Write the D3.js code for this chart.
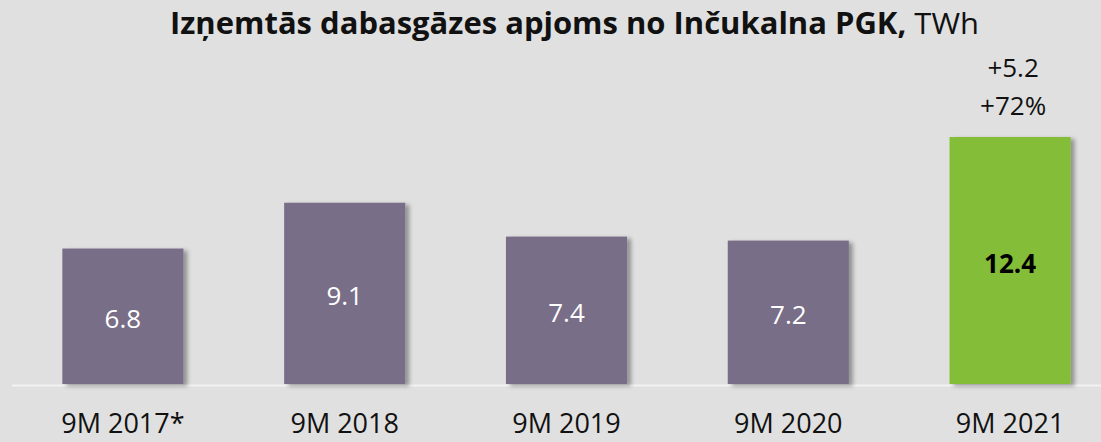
<!DOCTYPE html>
<html>
<head>
<meta charset="utf-8">
<script src="https://cdn.jsdelivr.net/npm/d3@7"></script>
<style>
  html, body { margin: 0; padding: 0; background: #e0e0e0; }
  svg { display: block; }
</style>
</head>
<body>
<svg id="chart"></svg>
<script>
// Data
const categories = ['9M 2017*', '9M 2018', '9M 2019', '9M 2020', '9M 2021'];
const values = [6.8, 9.1, 7.4, 7.2, 12.4];
const highlightIndex = 4;
const changeLabels = ['+5.2', '+72%'];

const width = 1101, height = 442;
const svg = d3.select('#chart').attr('width', width).attr('height', height);
const font = '"Open Sans", sans-serif';

// shadow filter for bars
const defs = svg.append('defs');
const f = defs.append('filter').attr('id', 'shadow')
  .attr('x', '-10%').attr('y', '-10%').attr('width', '130%').attr('height', '130%');
f.append('feDropShadow').attr('dx', 4).attr('dy', 2).attr('stdDeviation', 2)
  .attr('flood-color', '#000').attr('flood-opacity', 0.35);

svg.append('rect').attr('width', width).attr('height', height).attr('fill', '#e0e0e0');

const x = d3.scaleBand().domain(categories).range([12, 1121]).paddingInner(0.454).paddingOuter(0.227);
const baseY = 384;
const y = d3.scaleLinear().domain([0, 12.4]).range([baseY, 137]);

// baseline
svg.append('line')
  .attr('x1', 12).attr('x2', width).attr('y1', baseY + 1.5).attr('y2', baseY + 1.5)
  .attr('stroke', '#f2f2f2').attr('stroke-width', 2);

// bars
svg.selectAll('rect.bar').data(values).enter().append('rect')
  .attr('class', 'bar')
  .attr('x', (d, i) => x(categories[i]))
  .attr('width', x.bandwidth())
  .attr('y', d => y(d))
  .attr('height', d => baseY - y(d))
  .attr('fill', (d, i) => i === highlightIndex ? '#84bd37' : '#786e88')
  .attr('filter', 'url(#shadow)');

// value labels
svg.selectAll('text.val').data(values).enter().append('text')
  .attr('class', 'val')
  .attr('x', (d, i) => x(categories[i]) + x.bandwidth() / 2)
  .attr('y', d => (y(d) + baseY) / 2 + 12)
  .attr('text-anchor', 'middle')
  .style('font-family', font)
  .style('font-size', '26px')
  .style('font-weight', (d, i) => i === highlightIndex ? 700 : 400)
  .attr('fill', (d, i) => i === highlightIndex ? '#000' : '#fff')
  .text(d => d.toFixed(1));

// change labels above highlighted bar
const hx = x(categories[highlightIndex]) + x.bandwidth() / 2;
svg.selectAll('text.chg').data(changeLabels).enter().append('text')
  .attr('class', 'chg')
  .attr('x', hx + 3)
  .attr('y', (d, i) => 77 + i * 38)
  .attr('text-anchor', 'middle')
  .style('font-family', font)
  .style('font-size', '26px')
  .attr('fill', '#111')
  .text(d => d);

// category labels
svg.selectAll('text.cat').data(categories).enter().append('text')
  .attr('class', 'cat')
  .attr('x', d => x(d) + x.bandwidth() / 2)
  .attr('y', 433)
  .attr('text-anchor', 'middle')
  .style('font-family', font)
  .style('font-size', '27px')
  .attr('fill', '#111')
  .text(d => d);

// title (squeezed to the reference width, Calibri is narrower than Open Sans)
const title = svg.append('text')
  .attr('x', 170).attr('y', 34)
  .attr('textLength', 809)
  .attr('lengthAdjust', 'spacingAndGlyphs')
  .style('font-family', font)
  .style('font-size', '30px')
  .attr('fill', '#111');
title.append('tspan').style('font-weight', 700).text('Izņemtās dabasgāzes apjoms no Inčukalna PGK,');
title.append('tspan').style('font-weight', 400).text(' TWh');
</script>
</body>
</html>
